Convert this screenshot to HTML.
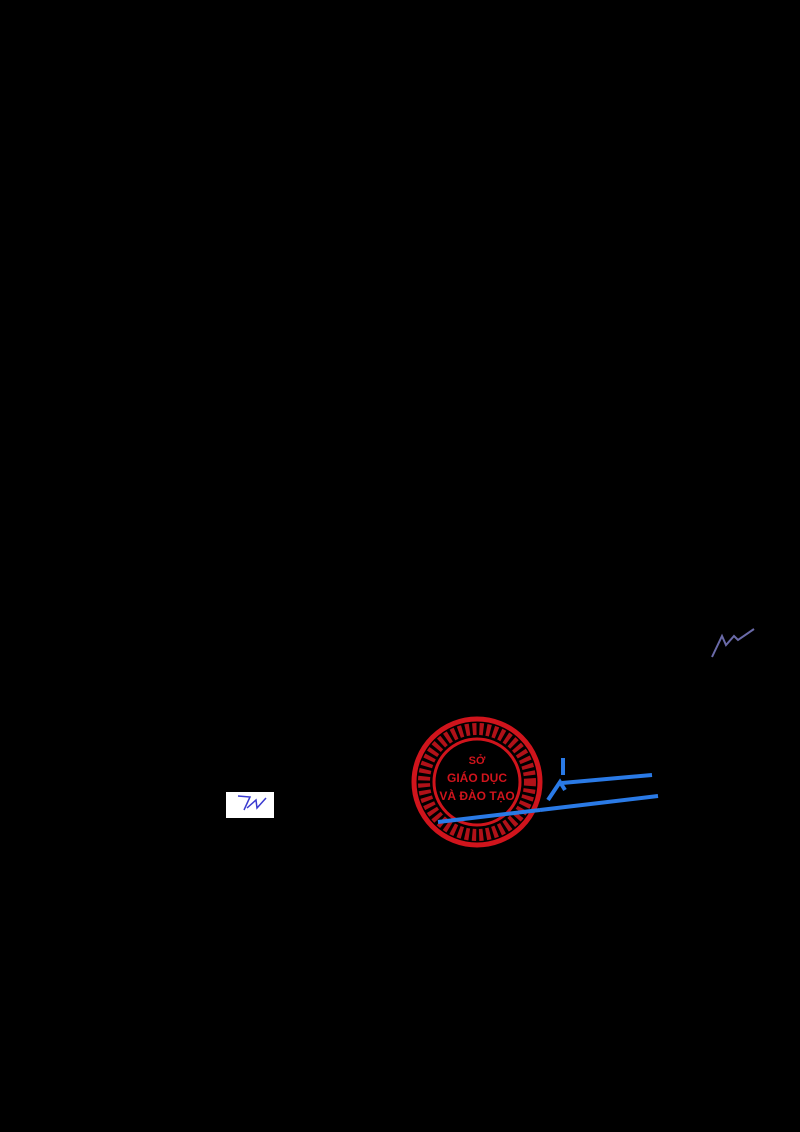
<!DOCTYPE html>
<html><head><meta charset="utf-8"><style>
html,body{margin:0;padding:0;background:#000;width:800px;height:1132px;overflow:hidden}
</style></head><body>
<svg width="800" height="1132" viewBox="0 0 800 1132" xmlns="http://www.w3.org/2000/svg" style="display:block">
<rect width="800" height="1132" fill="#000"/>
<!-- top-right signature -->
<path d="M712 657 L722 636 L726 645 L734 636 L738 640 L754 629" stroke="#6a6aa8" stroke-width="2" fill="none"/>
<!-- stamp -->
<g fill="none" stroke="#d0141c">
<circle cx="477" cy="782" r="63" stroke-width="5"/>
<circle cx="477" cy="782" r="43" stroke-width="3"/>
<circle cx="477" cy="782" r="53" stroke-width="12" stroke-dasharray="4 3" opacity="0.85"/>
</g>
<g fill="#d0141c" font-family="'Liberation Sans',sans-serif" font-weight="bold" text-anchor="middle">
<text x="477" y="764" font-size="11">SỞ</text>
<text x="477" y="782" font-size="12">GIÁO DỤC</text>
<text x="477" y="800" font-size="12">VÀ ĐÀO TẠO</text>
</g>
<!-- blue signature lines -->
<g stroke="#2a7ae6" stroke-width="4" fill="none">
<path d="M562 783 L652 775"/>
<path d="M540 810 L658 796"/>
<path d="M438 822 L540 810"/>
<path d="M563 758 L563 775 M548 800 L560 782 L565 790"/>
</g>
<!-- bottom-left signature box -->
<rect x="226" y="792" width="48" height="26" fill="#fff"/>
<path d="M238 796 L250 797 L244 810 M247 808 L256 800 L257 808 L266 798" stroke="#3a3ad0" stroke-width="1.5" fill="none"/>
</svg>
</body></html>
